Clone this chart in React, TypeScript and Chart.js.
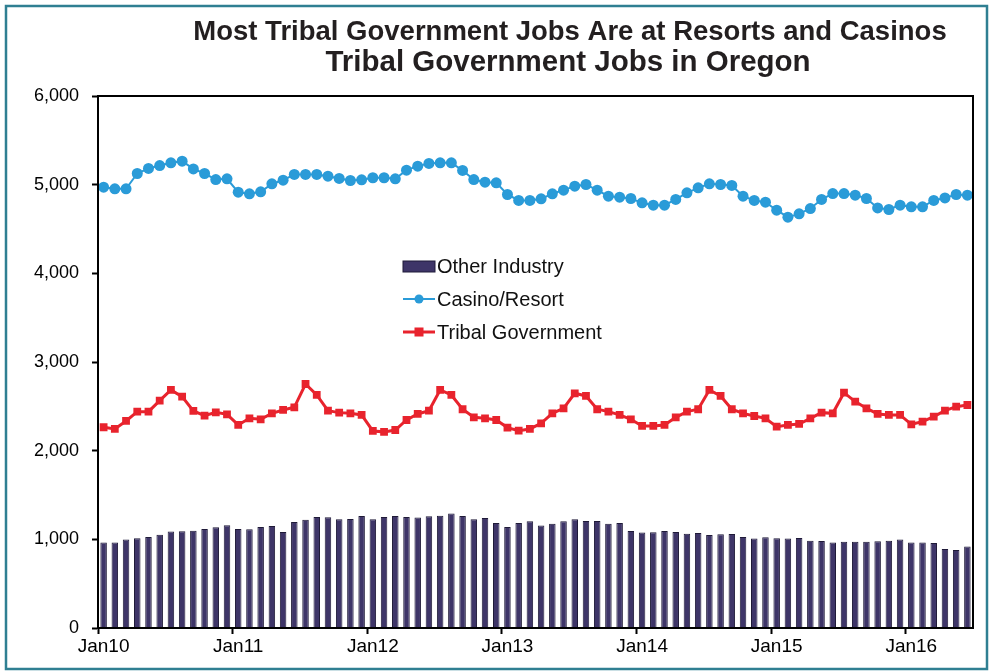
import { useEffect, useRef } from "react";
import { Chart, registerables } from "chart.js";

Chart.register(...registerables);

// ---- Data ----
const monthNames = ["Jan", "Feb", "Mar", "Apr", "May", "Jun", "Jul", "Aug", "Sep", "Oct", "Nov", "Dec"];
const yearSuffixes = ["10", "11", "12", "13", "14", "15", "16"];
const monthCount = 78; // Jan10 .. Jun16
const months: string[] = Array.from({ length: monthCount }, (_, i) => monthNames[i % 12] + yearSuffixes[Math.floor(i / 12)]);

const otherIndustry = [
  963, 963, 997, 1012, 1026, 1053, 1087, 1091, 1098, 1117, 1136, 1158,
  1117, 1113, 1139, 1150, 1083, 1195, 1222, 1252, 1248, 1226, 1229, 1263,
  1226, 1252, 1263, 1252, 1245, 1260, 1267, 1290, 1263, 1226, 1241, 1184,
  1139, 1184, 1203, 1155, 1177, 1203, 1226, 1207, 1207, 1177, 1184, 1094,
  1076, 1079, 1094, 1083, 1064, 1072, 1049, 1057, 1061, 1026, 1008, 1023,
  1012, 1008, 1015, 985, 981, 963, 974, 974, 974, 978, 985, 997,
  963, 963, 959, 891, 880, 918,
];

const casinoResort = [
  4972, 4953, 4953, 5126, 5183, 5216, 5246, 5265, 5178, 5126, 5058, 5066,
  4915, 4897, 4919, 5009, 5050, 5115, 5115, 5115, 5096, 5070, 5047, 5055,
  5078, 5078, 5066, 5164, 5209, 5239, 5246, 5246, 5160, 5058, 5028, 5021,
  4889, 4822, 4822, 4840, 4897, 4938, 4983, 5002, 4938, 4870, 4859, 4844,
  4795, 4769, 4769, 4833, 4908, 4964, 5009, 5002, 4991, 4870, 4822, 4803,
  4712, 4633, 4671, 4731, 4833, 4900, 4900, 4882, 4844, 4738, 4720, 4769,
  4750, 4750, 4822, 4851, 4889, 4882,
];

const tribalGovernment = [
  2264, 2245, 2335, 2440, 2440, 2564, 2685, 2609, 2448, 2395, 2433, 2410,
  2290, 2365, 2354, 2421, 2459, 2489, 2752, 2628, 2451, 2429, 2421, 2403,
  2222, 2212, 2233, 2346, 2414, 2451, 2685, 2628, 2467, 2376, 2365, 2346,
  2260, 2226, 2245, 2309, 2421, 2478, 2647, 2617, 2467, 2440, 2403, 2354,
  2279, 2279, 2290, 2376, 2440, 2467, 2685, 2617, 2467, 2421, 2391, 2365,
  2271, 2290, 2301, 2365, 2429, 2421, 2654, 2553, 2478, 2414, 2403, 2403,
  2297, 2327, 2384, 2451, 2496, 2515,
];

const titleLines = ["Most Tribal Government Jobs Are at Resorts and Casinos", "Tribal Government Jobs in Oregon"];
const seriesNames = ["Other Industry", "Casino/Resort", "Tribal Government"];

const FONT = "'Liberation Sans', Arial, Helvetica, sans-serif";
const BAR_FILL = "#3e3568";
const BAR_EDGE = "#1f1a38";
const CASINO = "#2a9bd8";
const TRIBAL = "#e8232d";

const decorPlugin = {
  id: "decor",
  beforeDraw(chart: any) {
    const { ctx, width, height } = chart;
    ctx.save();
    ctx.fillStyle = "#ffffff";
    ctx.fillRect(0, 0, width, height);
    ctx.restore();
  },
  afterDraw(chart: any) {
    const { ctx, chartArea } = chart;
    ctx.save();
    // plot frame
    ctx.strokeStyle = "#000";
    ctx.lineWidth = 2;
    ctx.strokeRect(chartArea.left, chartArea.top, chartArea.right - chartArea.left, chartArea.bottom - chartArea.top);
    // outer frame
    ctx.strokeStyle = "#2f7f92";
    ctx.lineWidth = 2.5;
    ctx.strokeRect(6, 6, 981, 663);
    // titles
    ctx.fillStyle = "#231f20";
    ctx.textAlign = "center";
    ctx.textBaseline = "middle";
    ctx.font = `bold 27.5px ${FONT}`;
    ctx.fillText(titleLines[0], 570, 32);
    ctx.font = `bold 29.5px ${FONT}`;
    ctx.fillText(titleLines[1], 568, 63);

    // legend
    const ds = chart.data.datasets;
    ctx.font = `20px ${FONT}`;
    ctx.textAlign = "left";
    const mx0 = 403, mx1 = 435, mc = 419, tx = 437;
    const rows = [266, 299, 332];
    // bars
    ctx.fillStyle = ds[0].backgroundColor;
    ctx.fillRect(mx0, rows[0] - 5, mx1 - mx0, 11);
    ctx.strokeStyle = ds[0].borderColor;
    ctx.lineWidth = 1;
    ctx.strokeRect(mx0, rows[0] - 5, mx1 - mx0, 11);
    // casino
    ctx.strokeStyle = ds[1].borderColor;
    ctx.lineWidth = 2;
    ctx.beginPath();
    ctx.moveTo(mx0, rows[1]);
    ctx.lineTo(mx1, rows[1]);
    ctx.stroke();
    ctx.fillStyle = ds[1].borderColor;
    ctx.beginPath();
    ctx.arc(mc, rows[1], 4.5, 0, Math.PI * 2);
    ctx.fill();
    // tribal
    ctx.strokeStyle = ds[2].borderColor;
    ctx.lineWidth = 3;
    ctx.beginPath();
    ctx.moveTo(mx0, rows[2]);
    ctx.lineTo(mx1, rows[2]);
    ctx.stroke();
    ctx.fillStyle = ds[2].borderColor;
    ctx.fillRect(mc - 4.5, rows[2] - 4.5, 9, 9);
    // texts
    ctx.fillStyle = "#111";
    for (let i = 0; i < 3; i++) ctx.fillText(ds[i].label, tx, rows[i] + 1);
    ctx.restore();
  },
};

export default function App() {
  const canvasRef = useRef<HTMLCanvasElement | null>(null);

  useEffect(() => {
    document.body.style.margin = "0";
    const canvas = canvasRef.current;
    if (!canvas) return;
    const chart = new Chart(canvas, {
      type: "bar",
      data: {
        labels: months,
        datasets: [
          {
            type: "bar",
            label: seriesNames[0],
            data: otherIndustry,
            backgroundColor: BAR_FILL,
            borderColor: BAR_EDGE,
            borderWidth: 1,
            categoryPercentage: 1,
            barPercentage: 0.58,
            order: 3,
          } as any,
          {
            type: "line",
            label: seriesNames[1],
            data: casinoResort,
            borderColor: CASINO,
            backgroundColor: CASINO,
            borderWidth: 2,
            pointRadius: 5.5,
            pointBorderWidth: 0,
            pointBackgroundColor: CASINO,
            tension: 0,
            order: 1,
          } as any,
          {
            type: "line",
            label: seriesNames[2],
            data: tribalGovernment,
            borderColor: TRIBAL,
            backgroundColor: TRIBAL,
            borderWidth: 3,
            pointStyle: "rect",
            pointRadius: 5.5,
            pointBorderWidth: 0,
            pointBackgroundColor: TRIBAL,
            tension: 0,
            order: 2,
          } as any,
        ],
      },
      options: {
        animation: false,
        responsive: false,
        devicePixelRatio: 1,
        layout: { padding: { top: 96, right: 19, left: 0, bottom: 0 } },
        plugins: {
          legend: { display: false },
          title: { display: false },
          tooltip: { enabled: false },
        },
        scales: {
          x: {
            type: "category",
            offset: true,
            grid: {
              offset: true,
              drawOnChartArea: false,
              tickLength: 6,
              tickWidth: 2,
              color: (c: any) => (c.index % 12 === 0 ? "#000" : "rgba(0,0,0,0)"),
              tickColor: (c: any) => (c.index % 12 === 0 ? "#000" : "rgba(0,0,0,0)"),
            },
            border: { display: true, color: "#000", width: 2 },
            ticks: {
              autoSkip: false,
              maxRotation: 0,
              minRotation: 0,
              padding: 1,
              color: "#000",
              font: { family: FONT, size: 19 },
              callback: (_v: any, idx: number) => (idx % 12 === 0 ? months[idx] : ""),
            },
            afterFit: (scale: any) => {
              scale.height = 43;
            },
          },
          y: {
            min: 0,
            max: 6000,
            grid: {
              drawOnChartArea: false,
              tickLength: 6,
              tickWidth: 2,
              color: "#000",
            },
            border: { display: true, color: "#000", width: 2 },
            ticks: {
              stepSize: 1000,
              padding: 13,
              color: "#000",
              font: { family: FONT, size: 18 },
              callback: (v: any) => Number(v).toLocaleString("en-US"),
            },
            afterFit: (scale: any) => {
              scale.width = 98;
            },
          },
        },
      },
      plugins: [decorPlugin],
    });
    return () => chart.destroy();
  }, []);

  return (
    <div style={{ width: 992, height: 671 }}>
      <canvas ref={canvasRef} width={992} height={671} style={{ display: "block", width: 992, height: 671 }} />
    </div>
  );
}
